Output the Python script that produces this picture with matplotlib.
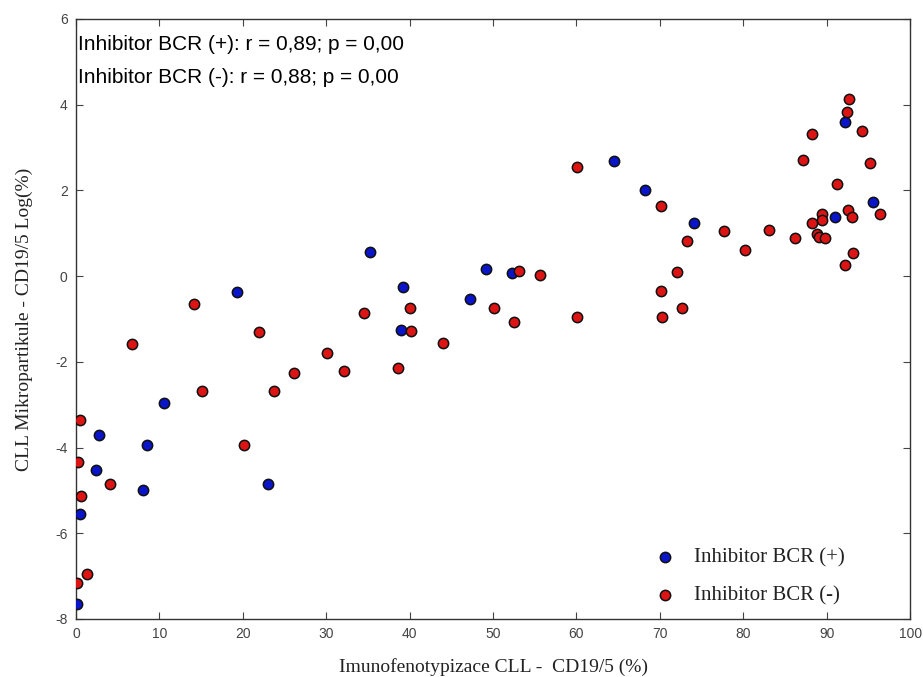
import matplotlib
matplotlib.use('Agg')
import matplotlib.pyplot as plt
import numpy as np

plt.rcParams['axes.unicode_minus'] = False

# Inhibitor BCR (+)
x_plus = [0.1, 0.5, 2.4, 2.8, 8.0, 8.5, 10.5, 19.3, 23.0, 35.3, 39.2, 39.0,
          47.2, 49.2, 52.3, 64.5, 68.2, 74.1, 91.0, 92.2, 95.6]
y_plus = [-7.64, -5.55, -4.53, -3.70, -4.99, -3.93, -2.96, -0.37, -4.86, 0.56, -0.25, -1.26,
          -0.54, 0.17, 0.08, 2.69, 2.00, 1.23, 1.38, 3.60, 1.72]

# Inhibitor BCR (-)
x_minus = [0.5, 0.2, 4.1, 0.6, 1.3, 0.1, 6.7, 14.1, 15.1, 20.1, 22.0, 23.8, 26.1,
           34.5, 40.0, 40.2, 30.1, 32.1, 38.6, 44.0, 53.1, 55.6, 50.1, 52.5, 60.1, 60.1,
           70.1, 73.2, 77.7, 80.2, 83.1, 86.2, 72.0, 70.1, 72.7, 70.3,
           87.2, 88.3, 92.7, 92.4, 94.2, 95.2, 91.2, 96.4, 92.5, 93.0,
           89.4, 89.5, 88.2, 88.9, 89.1, 89.8, 93.2, 92.2]
y_minus = [-3.36, -4.33, -4.86, -5.13, -6.95, -7.16, -1.59, -0.65, -2.68, -3.93, -1.31, -2.68, -2.26,
           -0.87, -0.74, -1.29, -1.80, -2.22, -2.15, -1.55, 0.12, 0.03, -0.75, -1.06, -0.95, 2.55,
           1.63, 0.82, 1.05, 0.61, 1.07, 0.89, 0.10, -0.34, -0.75, -0.96,
           2.72, 3.32, 4.13, 3.83, 3.39, 2.65, 2.16, 1.46, 1.54, 1.38,
           1.45, 1.31, 1.23, 0.99, 0.92, 0.89, 0.54, 0.27]

labels = ['Inhibitor BCR (+)', 'Inhibitor BCR (-)']
stats = ['Inhibitor BCR (+): r = 0,89; p = 0,00',
         'Inhibitor BCR (-): r = 0,88; p = 0,00']

fig = plt.figure(figsize=(9.23, 6.77), dpi=100)
ax = fig.add_axes([0.0823, 0.0857, 0.9037, 0.8863])

ax.scatter(x_plus, y_plus, s=55, color='#0a14c8', edgecolors='#101010',
           linewidths=1.1, label=labels[0], zorder=3)
ax.scatter(x_minus, y_minus, s=55, color='#dc1414', edgecolors='#101010',
           linewidths=1.1, label=labels[1], zorder=3)

ax.set_xlim(0, 100)
ax.set_ylim(-8, 6)
ax.set_xticks(np.arange(0, 101, 10))
ax.set_yticks(np.arange(-8, 7, 2))
ax.tick_params(direction='in', length=5, top=True, right=True,
               labelsize=10, labelcolor='#444444', color='#444444', pad=6)
for lab in ax.get_xticklabels() + ax.get_yticklabels():
    lab.set_fontfamily('Liberation Sans')
for sp in ax.spines.values():
    sp.set_color('#333333')
    sp.set_linewidth(1.0)

ax.set_xlabel('Imunofenotypizace CLL -  CD19/5 (%)', family='Liberation Serif',
              fontsize=14, color='#222222', labelpad=12)
ax.set_ylabel('CLL Mikropartikule - CD19/5 Log(%)', family='Liberation Serif',
              fontsize=14, color='#222222', labelpad=16)

ax.text(0.003, 0.958, stats[0], transform=ax.transAxes, family='Liberation Sans',
        fontsize=15, va='center', ha='left')
ax.text(0.003, 0.903, stats[1], transform=ax.transAxes, family='Liberation Sans',
        fontsize=15, va='center', ha='left')

leg = ax.legend(loc='lower right', bbox_to_anchor=(0.944, -0.008), frameon=False,
                prop={'family': 'Liberation Serif', 'size': 15},
                labelspacing=0.85, handletextpad=0.4, scatterpoints=1)
for t in leg.get_texts():
    t.set_color('#222222')

fig.savefig('out.png', dpi=100)
